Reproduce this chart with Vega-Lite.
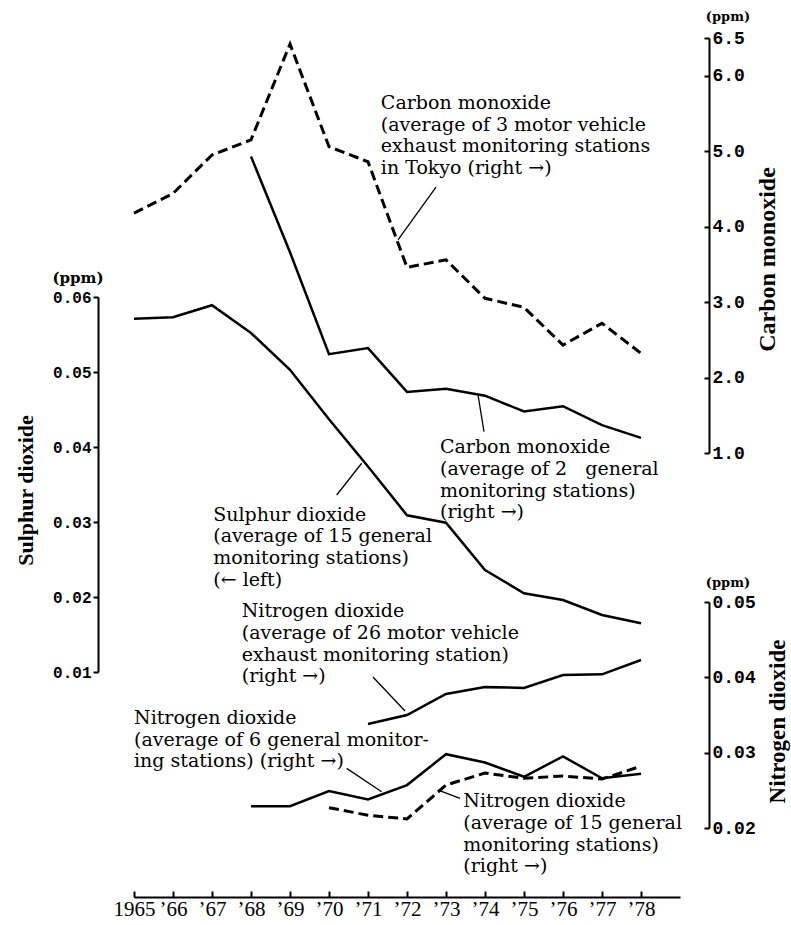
{
  "$schema": "https://vega.github.io/schema/vega-lite/v6.json",
  "width": 546,
  "height": 860,
  "autosize": {"type": "none"},
  "padding": {"left": 134, "top": 37, "right": 111, "bottom": 28},
  "background": "white",
  "config": {
    "view": {"stroke": null},
    "axis": {"grid": false, "domainColor": "#000", "domainWidth": 2, "tickColor": "#000", "tickWidth": 2, "labelColor": "#000", "titleColor": "#000", "labelOverlap": false, "labelFlush": false}
  },
  "datasets": {
    "so2": [
      {"year": 1965, "value": 0.0571}, {"year": 1966, "value": 0.0573}, {"year": 1967, "value": 0.0589},
      {"year": 1968, "value": 0.0552}, {"year": 1969, "value": 0.0503}, {"year": 1970, "value": 0.0437},
      {"year": 1971, "value": 0.0374}, {"year": 1972, "value": 0.0309}, {"year": 1973, "value": 0.0299},
      {"year": 1974, "value": 0.0236}, {"year": 1975, "value": 0.0205}, {"year": 1976, "value": 0.0196},
      {"year": 1977, "value": 0.0176}, {"year": 1978, "value": 0.0165}
    ],
    "coTokyo": [
      {"year": 1965, "value": 4.18}, {"year": 1966, "value": 4.44}, {"year": 1967, "value": 4.95},
      {"year": 1968, "value": 5.15}, {"year": 1969, "value": 6.42}, {"year": 1970, "value": 5.06},
      {"year": 1971, "value": 4.86}, {"year": 1972, "value": 3.46}, {"year": 1973, "value": 3.56},
      {"year": 1974, "value": 3.05}, {"year": 1975, "value": 2.93}, {"year": 1976, "value": 2.43},
      {"year": 1977, "value": 2.72}, {"year": 1978, "value": 2.32}
    ],
    "coGeneral": [
      {"year": 1968, "value": 4.93}, {"year": 1969, "value": 3.66}, {"year": 1970, "value": 2.31},
      {"year": 1971, "value": 2.39}, {"year": 1972, "value": 1.81}, {"year": 1973, "value": 1.85},
      {"year": 1974, "value": 1.76}, {"year": 1975, "value": 1.55}, {"year": 1976, "value": 1.62},
      {"year": 1977, "value": 1.37}, {"year": 1978, "value": 1.2}
    ],
    "no2Vehicle": [
      {"year": 1971, "value": 0.0338}, {"year": 1972, "value": 0.035}, {"year": 1973, "value": 0.0378},
      {"year": 1974, "value": 0.0387}, {"year": 1975, "value": 0.0386}, {"year": 1976, "value": 0.0403},
      {"year": 1977, "value": 0.0404}, {"year": 1978, "value": 0.0423}
    ],
    "no2Six": [
      {"year": 1968, "value": 0.0229}, {"year": 1969, "value": 0.0229}, {"year": 1970, "value": 0.0249},
      {"year": 1971, "value": 0.0238}, {"year": 1972, "value": 0.0257}, {"year": 1973, "value": 0.0298},
      {"year": 1974, "value": 0.0287}, {"year": 1975, "value": 0.0268}, {"year": 1976, "value": 0.0295},
      {"year": 1977, "value": 0.0266}, {"year": 1978, "value": 0.0272}
    ],
    "no2Fifteen": [
      {"year": 1970, "value": 0.0227}, {"year": 1971, "value": 0.0217}, {"year": 1972, "value": 0.0212},
      {"year": 1973, "value": 0.0257}, {"year": 1974, "value": 0.0273}, {"year": 1975, "value": 0.0266},
      {"year": 1976, "value": 0.0269}, {"year": 1977, "value": 0.0265}, {"year": 1978, "value": 0.0282}
    ],
    "notesSO2": [
      {"year": 1967.033, "value": 0.03017, "label": "Sulphur dioxide\n(average of 15 general\nmonitoring stations)\n(← left)"}
    ],
    "leadersSO2": [
      {"year": 1970.197, "value": 0.0336, "year2": 1970.838, "value2": 0.03783}
    ],
    "unitSO2": [{"year": 1963.564, "value": 0.06253, "label": "(ppm)"}],
    "notesCO": [
      {"year": 1971.33, "value": 5.559, "label": "Carbon monoxide\n(average of 3 motor vehicle\nexhaust monitoring stations\nin Tokyo (right →)"},
      {"year": 1972.846, "value": 0.996, "label": "Carbon monoxide\n(average of 2\u00a0\u00a0\u00a0general\nmonitoring stations)\n(right →)"}
    ],
    "leadersCO": [
      {"year": 1972.744, "value": 4.525, "year2": 1971.769, "value2": 3.823},
      {"year": 1973.974, "value": 1.282, "year2": 1973.821, "value2": 1.769}
    ],
    "unitCO": [{"year": 1980.23, "value": 6.779, "label": "(ppm)"}],
    "notesNO2": [
      {"year": 1967.762, "value": 0.04797, "label": "Nitrogen dioxide\n(average of 26 motor vehicle\nexhaust monitoring station)\n(right →)"},
      {"year": 1965.0, "value": 0.0338, "label": "Nitrogen dioxide\n(average of 6 general monitor-\ning stations) (right →)"},
      {"year": 1973.444, "value": 0.02275, "label": "Nitrogen dioxide\n(average of 15 general\nmonitoring stations)\n(right →)"}
    ],
    "leadersNO2": [
      {"year": 1971.128, "value": 0.04004, "year2": 1971.949, "value2": 0.03553},
      {"year": 1970.454, "value": 0.02792, "year2": 1971.349, "value2": 0.02482},
      {"year": 1973.359, "value": 0.02394, "year2": 1972.803, "value2": 0.02504}
    ],
    "unitNO2": [{"year": 1980.23, "value": 0.05252, "label": "(ppm)"}]
  },
  "layer": [
    {
      "layer": [
        {
          "data": {"name": "so2"},
          "mark": {"type": "line", "color": "black", "strokeWidth": 2.5},
          "encoding": {
            "x": {"field": "year", "type": "quantitative", "scale": {"domain": [1965, 1979], "nice": false, "zero": false},
              "axis": {"values": [1965, 1966, 1967, 1968, 1969, 1970, 1971, 1972, 1973, 1974, 1975, 1976, 1977, 1978], "tickSize": -6, "labelPadding": 7, "labelExpr": "datum.value == 1965 ? '1965' : '’' + substring(toString(datum.value), 2, 4)", "labelFont": "Liberation Serif", "labelFontSize": 21, "title": null}},
            "y": {"field": "value", "type": "quantitative", "scale": {"domain": [0.01, 0.06], "range": [635, 260], "nice": false, "zero": false},
              "axis": {"orient": "left", "offset": 36, "values": [0.01, 0.02, 0.03, 0.04, 0.05, 0.06], "format": ".2f", "tickSize": 5, "labelPadding": 2, "labelFont": "Liberation Mono", "labelFontWeight": "bold", "labelFontSize": 16, "title": "Sulphur dioxide", "titleFont": "Liberation Serif", "titleFontWeight": "bold", "titleFontSize": 22, "titleAngle": 270, "titleAlign": "center", "titleBaseline": "middle", "titleX": -73, "titleY": 453}}
          }
        },
        {
          "data": {"name": "notesSO2"},
          "mark": {"type": "text", "font": "DejaVu Serif", "fontSize": 19, "lineHeight": 21.7, "lineBreak": "\n", "align": "left", "baseline": "alphabetic", "color": "black"},
          "encoding": {
            "x": {"field": "year", "type": "quantitative", "scale": {"domain": [1965, 1979], "nice": false, "zero": false}},
            "y": {"field": "value", "type": "quantitative", "scale": {"domain": [0.01, 0.06], "range": [635, 260], "nice": false, "zero": false}},
            "text": {"field": "label"}
          }
        },
        {
          "data": {"name": "leadersSO2"},
          "mark": {"type": "rule", "color": "black", "strokeWidth": 1.3},
          "encoding": {
            "x": {"field": "year", "type": "quantitative", "scale": {"domain": [1965, 1979], "nice": false, "zero": false}},
            "y": {"field": "value", "type": "quantitative", "scale": {"domain": [0.01, 0.06], "range": [635, 260], "nice": false, "zero": false}},
            "x2": {"field": "year2"},
            "y2": {"field": "value2"}
          }
        },
        {
          "data": {"name": "unitSO2"},
          "mark": {"type": "text", "font": "DejaVu Serif", "fontWeight": "bold", "fontSize": 15, "align": "center", "baseline": "middle", "color": "black"},
          "encoding": {
            "x": {"field": "year", "type": "quantitative", "scale": {"domain": [1965, 1979], "nice": false, "zero": false}},
            "y": {"field": "value", "type": "quantitative", "scale": {"domain": [0.01, 0.06], "range": [635, 260], "nice": false, "zero": false}},
            "text": {"field": "label"}
          }
        }
      ]
    },
    {
      "layer": [
        {
          "data": {"name": "coTokyo"},
          "mark": {"type": "line", "color": "black", "strokeWidth": 3, "strokeDash": [10, 5]},
          "encoding": {
            "x": {"field": "year", "type": "quantitative", "scale": {"domain": [1965, 1979], "nice": false, "zero": false}},
            "y": {"field": "value", "type": "quantitative", "scale": {"domain": [1, 6.5], "range": [416, 1], "nice": false, "zero": false},
              "axis": {"orient": "right", "offset": 29, "values": [1, 2, 3, 4, 5, 6, 6.5], "format": ".1f", "tickSize": -5, "labelPadding": 8, "labelFont": "Liberation Mono", "labelFontWeight": "bold", "labelFontSize": 18, "title": "Carbon monoxide", "titleFont": "Liberation Serif", "titleFontWeight": "bold", "titleFontSize": 24, "titleAngle": 270, "titleAlign": "center", "titleBaseline": "middle", "titleX": 58, "titleY": 222}}
          }
        },
        {
          "data": {"name": "coGeneral"},
          "mark": {"type": "line", "color": "black", "strokeWidth": 2.5},
          "encoding": {
            "x": {"field": "year", "type": "quantitative", "scale": {"domain": [1965, 1979], "nice": false, "zero": false}},
            "y": {"field": "value", "type": "quantitative", "scale": {"domain": [1, 6.5], "range": [416, 1], "nice": false, "zero": false}}
          }
        },
        {
          "data": {"name": "notesCO"},
          "mark": {"type": "text", "font": "DejaVu Serif", "fontSize": 19, "lineHeight": 21.7, "lineBreak": "\n", "align": "left", "baseline": "alphabetic", "color": "black"},
          "encoding": {
            "x": {"field": "year", "type": "quantitative", "scale": {"domain": [1965, 1979], "nice": false, "zero": false}},
            "y": {"field": "value", "type": "quantitative", "scale": {"domain": [1, 6.5], "range": [416, 1], "nice": false, "zero": false}},
            "text": {"field": "label"}
          }
        },
        {
          "data": {"name": "leadersCO"},
          "mark": {"type": "rule", "color": "black", "strokeWidth": 1.3},
          "encoding": {
            "x": {"field": "year", "type": "quantitative", "scale": {"domain": [1965, 1979], "nice": false, "zero": false}},
            "y": {"field": "value", "type": "quantitative", "scale": {"domain": [1, 6.5], "range": [416, 1], "nice": false, "zero": false}},
            "x2": {"field": "year2"},
            "y2": {"field": "value2"}
          }
        },
        {
          "data": {"name": "unitCO"},
          "mark": {"type": "text", "font": "DejaVu Serif", "fontWeight": "bold", "fontSize": 13, "align": "center", "baseline": "middle", "color": "black"},
          "encoding": {
            "x": {"field": "year", "type": "quantitative", "scale": {"domain": [1965, 1979], "nice": false, "zero": false}},
            "y": {"field": "value", "type": "quantitative", "scale": {"domain": [1, 6.5], "range": [416, 1], "nice": false, "zero": false}},
            "text": {"field": "label"}
          }
        }
      ]
    },
    {
      "layer": [
        {
          "data": {"name": "no2Vehicle"},
          "mark": {"type": "line", "color": "black", "strokeWidth": 2.5},
          "encoding": {
            "x": {"field": "year", "type": "quantitative", "scale": {"domain": [1965, 1979], "nice": false, "zero": false}},
            "y": {"field": "value", "type": "quantitative", "scale": {"domain": [0.02, 0.05], "range": [791, 565], "nice": false, "zero": false},
              "axis": {"orient": "right", "offset": 29, "values": [0.02, 0.03, 0.04, 0.05], "format": ".2f", "tickSize": -5, "labelPadding": 8, "labelFont": "Liberation Mono", "labelFontWeight": "bold", "labelFontSize": 18, "title": "Nitrogen dioxide", "titleFont": "Liberation Serif", "titleFontWeight": "bold", "titleFontSize": 23, "titleAngle": 270, "titleAlign": "center", "titleBaseline": "middle", "titleX": 68, "titleY": 684}}
          }
        },
        {
          "data": {"name": "no2Six"},
          "mark": {"type": "line", "color": "black", "strokeWidth": 2.5},
          "encoding": {
            "x": {"field": "year", "type": "quantitative", "scale": {"domain": [1965, 1979], "nice": false, "zero": false}},
            "y": {"field": "value", "type": "quantitative", "scale": {"domain": [0.02, 0.05], "range": [791, 565], "nice": false, "zero": false}}
          }
        },
        {
          "data": {"name": "no2Fifteen"},
          "mark": {"type": "line", "color": "black", "strokeWidth": 3, "strokeDash": [10, 5]},
          "encoding": {
            "x": {"field": "year", "type": "quantitative", "scale": {"domain": [1965, 1979], "nice": false, "zero": false}},
            "y": {"field": "value", "type": "quantitative", "scale": {"domain": [0.02, 0.05], "range": [791, 565], "nice": false, "zero": false}}
          }
        },
        {
          "data": {"name": "notesNO2"},
          "mark": {"type": "text", "font": "DejaVu Serif", "fontSize": 19, "lineHeight": 21.7, "lineBreak": "\n", "align": "left", "baseline": "alphabetic", "color": "black"},
          "encoding": {
            "x": {"field": "year", "type": "quantitative", "scale": {"domain": [1965, 1979], "nice": false, "zero": false}},
            "y": {"field": "value", "type": "quantitative", "scale": {"domain": [0.02, 0.05], "range": [791, 565], "nice": false, "zero": false}},
            "text": {"field": "label"}
          }
        },
        {
          "data": {"name": "leadersNO2"},
          "mark": {"type": "rule", "color": "black", "strokeWidth": 1.3},
          "encoding": {
            "x": {"field": "year", "type": "quantitative", "scale": {"domain": [1965, 1979], "nice": false, "zero": false}},
            "y": {"field": "value", "type": "quantitative", "scale": {"domain": [0.02, 0.05], "range": [791, 565], "nice": false, "zero": false}},
            "x2": {"field": "year2"},
            "y2": {"field": "value2"}
          }
        },
        {
          "data": {"name": "unitNO2"},
          "mark": {"type": "text", "font": "DejaVu Serif", "fontWeight": "bold", "fontSize": 13, "align": "center", "baseline": "middle", "color": "black"},
          "encoding": {
            "x": {"field": "year", "type": "quantitative", "scale": {"domain": [1965, 1979], "nice": false, "zero": false}},
            "y": {"field": "value", "type": "quantitative", "scale": {"domain": [0.02, 0.05], "range": [791, 565], "nice": false, "zero": false}},
            "text": {"field": "label"}
          }
        }
      ]
    }
  ],
  "resolve": {"scale": {"y": "independent"}, "axis": {"y": "independent"}}
}
